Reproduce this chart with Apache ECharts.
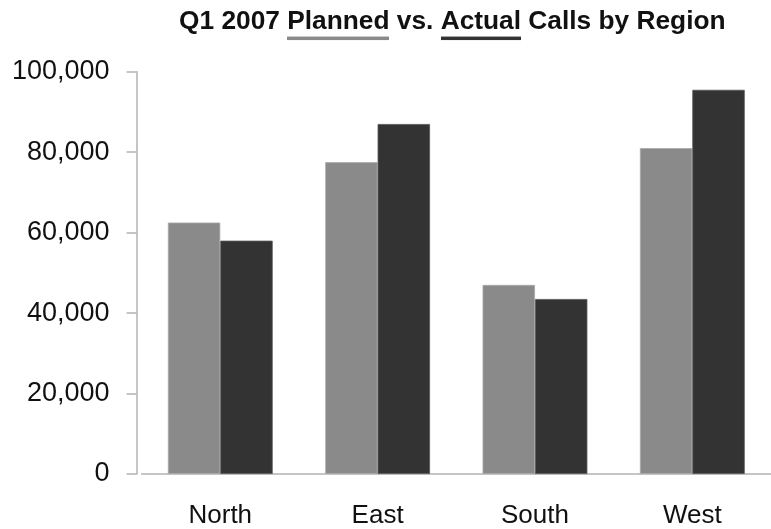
<!DOCTYPE html>
<html>
<head>
<meta charset="utf-8">
<script src="https://cdn.jsdelivr.net/npm/echarts@6/dist/echarts.min.js"></script>
<style>
html,body{margin:0;padding:0;background:#fff;}
#chart{width:771px;height:529px;}
</style>
</head>
<body>
<div id="chart"></div>
<script>
const categories = ['North', 'East', 'South', 'West'];
const plannedValues = [62500, 77500, 47000, 81000];
const actualValues = [58000, 87000, 43500, 95500];
const yTicks = [0, 20000, 40000, 60000, 80000, 100000];

const PLANNED_COLOR = '#8a8a8a';
const ACTUAL_COLOR = '#333333';

function underlineImage(color) {
  const c = document.createElement('canvas');
  c.width = 4; c.height = 36;
  const ctx = c.getContext('2d');
  ctx.fillStyle = color;
  ctx.fillRect(0, 31, 4, 4);
  return c;
}

const chart = echarts.init(document.getElementById('chart'), null, {renderer: 'canvas'});
const baseTok = {fontFamily: 'Liberation Sans, Arial, sans-serif', fontWeight: 'bold', fontSize: 26.3, color: '#111', lineHeight: 30, padding: [0, 0, 6, 0]};
chart.setOption({
  animation: false,
  backgroundColor: '#ffffff',
  title: {
    left: 179,
    top: 10,
    padding: 0,
    text: '{n|Q1 2007 }{p|Planned}{n| vs. }{a|Actual}{n| Calls by Region}',
    textStyle: {
      rich: {
        n: Object.assign({}, baseTok),
        p: Object.assign({}, baseTok, {backgroundColor: {image: underlineImage(PLANNED_COLOR)}}),
        a: Object.assign({}, baseTok, {backgroundColor: {image: underlineImage(ACTUAL_COLOR)}})
      }
    }
  },
  grid: {left: 141.6, right: -2.2, top: 71.7, bottom: 53.3, containLabel: false},
  xAxis: {
    type: 'category',
    data: categories,
    axisLine: {show: true, lineStyle: {color: '#b3b3b3', width: 1.5}},
    axisTick: {show: false},
    axisLabel: {fontFamily: 'Liberation Sans, Arial, sans-serif', fontSize: 26, color: '#111', margin: 29}
  },
  yAxis: {
    type: 'value',
    min: yTicks[0],
    max: yTicks[yTicks.length - 1],
    interval: yTicks[1] - yTicks[0],
    offset: 5,
    splitLine: {show: false},
    axisLine: {show: true, lineStyle: {color: '#b3b3b3', width: 1.5}},
    axisTick: {show: true, length: 10, lineStyle: {color: '#b3b3b3', width: 1.5}},
    axisLabel: {
      fontFamily: 'Liberation Sans, Arial, sans-serif', fontSize: 27, color: '#111', margin: 27,
      formatter: v => v.toLocaleString('en-US')
    }
  },
  series: [
    {name: 'Planned', type: 'bar', data: plannedValues, barGap: '0%', barCategoryGap: '33.4%',
     itemStyle: {color: PLANNED_COLOR, borderColor: '#a8a8a8', borderWidth: 0.8}},
    {name: 'Actual', type: 'bar', data: actualValues, barGap: '0%', barCategoryGap: '33.4%',
     itemStyle: {color: ACTUAL_COLOR, borderColor: '#555555', borderWidth: 0.8}}
  ]
});
</script>
</body>
</html>
